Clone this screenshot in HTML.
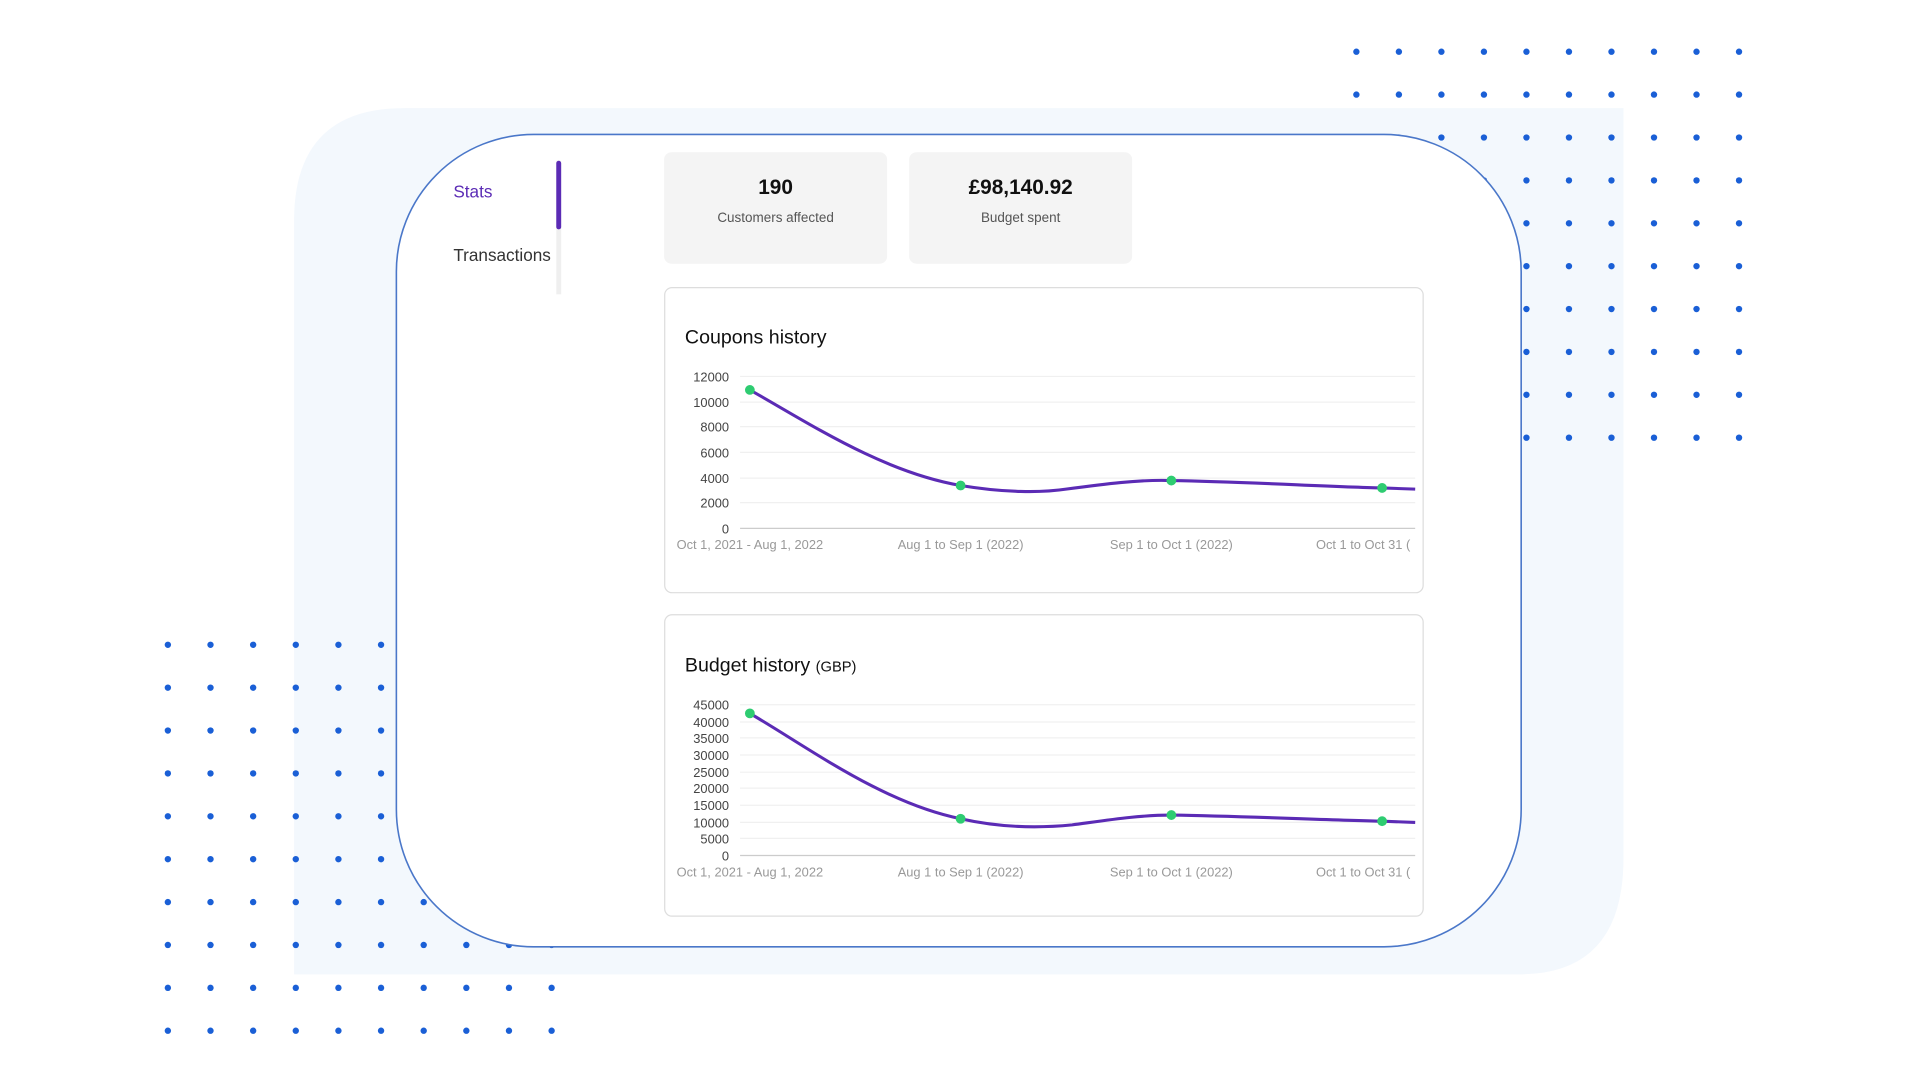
<!DOCTYPE html>
<html><head><meta charset="utf-8"><style>
html,body{margin:0;padding:0;background:#fff;width:1920px;height:1080px;overflow:hidden}
svg{display:block;font-family:"Liberation Sans",sans-serif}
</style></head><body>
<svg width="1920" height="1080" viewBox="0 0 1567 881" xmlns="http://www.w3.org/2000/svg">
<rect width="1567" height="881" fill="#fff"/>
<path d="M330,88 H1325 V700 Q1325,795 1240,795 H240 V180 Q240,88 330,88 Z" fill="#f3f8fd"/>
<g fill="#1a5fd6" id="dots"></g>
<rect x="323.5" y="109.5" width="918" height="663" rx="112" fill="#fff" stroke="#4a77c9" stroke-width="1.3"/>
<rect x="454" y="131" width="4" height="109" fill="#efefef"/>
<rect x="454" y="131" width="4" height="56" rx="2" fill="#5b2bb5"/>
<text x="370" y="161" font-size="14" fill="#5b2bb5">Stats</text>
<text x="370" y="213" font-size="14" fill="#333">Transactions</text>
<rect x="542" y="124" width="182" height="91" rx="6" fill="#f4f4f4"/>
<rect x="742" y="124" width="182" height="91" rx="6" fill="#f4f4f4"/>
<text x="633" y="158" font-size="17" text-anchor="middle" fill="#111" font-weight="bold">190</text>
<text x="633" y="181" font-size="11" text-anchor="middle" fill="#555">Customers affected</text>
<text x="833" y="158" font-size="17" text-anchor="middle" fill="#111" font-weight="bold">£98,140.92</text>
<text x="833" y="181" font-size="11" text-anchor="middle" fill="#555">Budget spent</text>
<rect x="542.5" y="234.5" width="619" height="249" rx="6" fill="#fff" stroke="#ddd"/>
<text x="559" y="280" font-size="16" fill="#111">Coupons history</text>
<g stroke="#f0f0f0">
<line x1="604" x2="1155" y1="307" y2="307"/><line x1="604" x2="1155" y1="328" y2="328"/><line x1="604" x2="1155" y1="348" y2="348"/><line x1="604" x2="1155" y1="369" y2="369"/><line x1="604" x2="1155" y1="390" y2="390"/><line x1="604" x2="1155" y1="410" y2="410"/></g>
<line x1="604" x2="1155" y1="431" y2="431" stroke="#ccc"/>
<g font-size="10.5" fill="#444" text-anchor="end">
<text x="595" y="311">12000</text><text x="595" y="332">10000</text><text x="595" y="352">8000</text><text x="595" y="373">6000</text><text x="595" y="394">4000</text><text x="595" y="414">2000</text><text x="595" y="435">0</text></g>
<g font-size="10.5" fill="#999" text-anchor="middle">
<text x="612" y="448">Oct 1, 2021 - Aug 1, 2022</text><text x="784" y="448">Aug 1 to Sep 1 (2022)</text><text x="956" y="448">Sep 1 to Oct 1 (2022)</text><text x="1074" y="448" text-anchor="start">Oct 1 to Oct 31 (</text></g>
<path d="M612,318 C660,345 720,385 784,396 C820,402 850,402 870,399 C900,395 930,391 956,392 C1020,393 1080,397 1128,398 L1155,399" fill="none" stroke="#5b2bb5" stroke-width="2.5"/>
<g fill="#2ecc71"><circle cx="612" cy="318" r="4"/><circle cx="784" cy="396" r="4"/><circle cx="956" cy="392" r="4"/><circle cx="1128" cy="398" r="4"/></g>
<rect x="542.5" y="501.5" width="619" height="246" rx="6" fill="#fff" stroke="#ddd"/>
<text x="559" y="548" font-size="16" fill="#111">Budget history <tspan font-size="12">(GBP)</tspan></text>
<g stroke="#f0f0f0">
<line x1="604" x2="1155" y1="575" y2="575"/><line x1="604" x2="1155" y1="589" y2="589"/><line x1="604" x2="1155" y1="602" y2="602"/><line x1="604" x2="1155" y1="616" y2="616"/><line x1="604" x2="1155" y1="630" y2="630"/><line x1="604" x2="1155" y1="643" y2="643"/><line x1="604" x2="1155" y1="657" y2="657"/><line x1="604" x2="1155" y1="671" y2="671"/><line x1="604" x2="1155" y1="684" y2="684"/></g>
<line x1="604" x2="1155" y1="698" y2="698" stroke="#ccc"/>
<g font-size="10.5" fill="#444" text-anchor="end">
<text x="595" y="579">45000</text><text x="595" y="593">40000</text><text x="595" y="606">35000</text><text x="595" y="620">30000</text><text x="595" y="634">25000</text><text x="595" y="647">20000</text><text x="595" y="661">15000</text><text x="595" y="675">10000</text><text x="595" y="688">5000</text><text x="595" y="702">0</text></g>
<g font-size="10.5" fill="#999" text-anchor="middle">
<text x="612" y="715">Oct 1, 2021 - Aug 1, 2022</text><text x="784" y="715">Aug 1 to Sep 1 (2022)</text><text x="956" y="715">Sep 1 to Oct 1 (2022)</text><text x="1074" y="715" text-anchor="start">Oct 1 to Oct 31 (</text></g>
<path d="M612,582 C660,610 720,655 784,668 C815,675 845,676 875,673 C905,669 930,665 956,665 C1020,666 1080,669 1128,670 L1155,671" fill="none" stroke="#5b2bb5" stroke-width="2.5"/>
<g fill="#2ecc71"><circle cx="612" cy="582" r="4"/><circle cx="784" cy="668" r="4"/><circle cx="956" cy="665" r="4"/><circle cx="1128" cy="670" r="4"/></g>
</svg>
<script>
var g=document.getElementById('dots'),ns='http://www.w3.org/2000/svg';
function d(x,y){var c=document.createElementNS(ns,'circle');c.setAttribute('cx',x);c.setAttribute('cy',y);c.setAttribute('r',2.6);g.appendChild(c);}
for(var r=0;r<10;r++)for(var c=0;c<10;c++){d(1107+c*34.7,42+r*35);d(137+c*34.8,526+r*35);}
</script>
</body></html>
